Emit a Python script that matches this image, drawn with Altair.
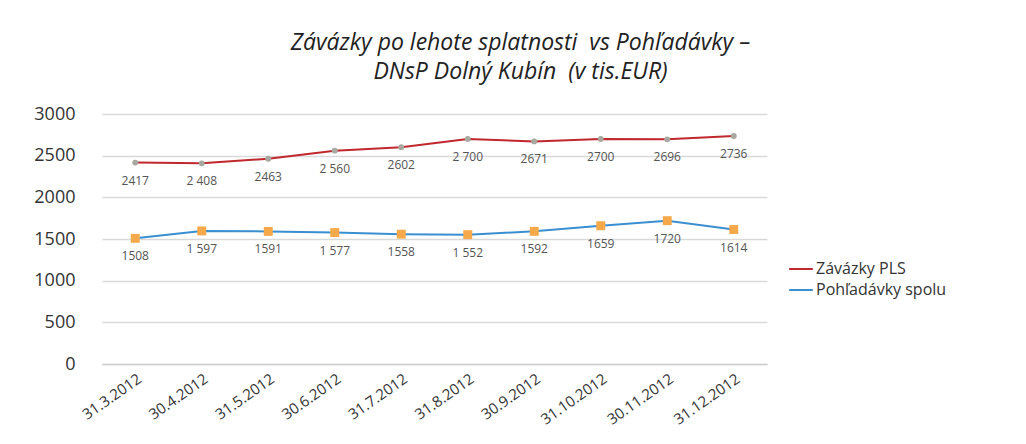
import altair as alt
import pandas as pd

dates = ["31.3.2012", "30.4.2012", "31.5.2012", "30.6.2012", "31.7.2012",
         "31.8.2012", "30.9.2012", "31.10.2012", "30.11.2012", "31.12.2012"]
zavazky = [2417, 2408, 2463, 2560, 2602, 2700, 2671, 2700, 2696, 2736]
pohladavky = [1508, 1597, 1591, 1577, 1558, 1552, 1592, 1659, 1720, 1614]
zav_labels = ["2417", "2 408", "2463", "2 560", "2602", "2 700", "2671", "2700", "2696", "2736"]
poh_labels = ["1508", "1 597", "1591", "1 577", "1558", "1 552", "1592", "1659", "1720", "1614"]
series = ["Závázky PLS", "Pohľadávky spolu"]

rows = []
for i, d in enumerate(dates):
    rows.append({"date": d, "series": series[0], "value": zavazky[i], "label": zav_labels[i]})
    rows.append({"date": d, "series": series[1], "value": pohladavky[i], "label": poh_labels[i]})
df = pd.DataFrame(rows)

color = alt.Color("series:N", scale=alt.Scale(domain=series, range=["#C0282D", "#3A8FD0"]),
                  legend=alt.Legend(title=None, orient="none", legendX=686, legendY=142,
                                    symbolType="stroke", symbolStrokeWidth=2, symbolSize=560,
                                    labelFont="Open Sans", labelFontSize=16, labelColor="#333333",
                                    labelOffset=2, rowPadding=0))

x = alt.X("date:N", sort=dates, scale=alt.Scale(type="point", padding=0.5),
          axis=alt.Axis(title=None, labelAngle=-35, labelFont="Open Sans", labelFontSize=15,
                        labelColor="#333333", domainColor="#d0d0d0", domainWidth=1.5,
                        ticks=False, grid=False, labelPadding=7))
y = alt.Y("value:Q", scale=alt.Scale(domain=[0, 3000], nice=False),
          axis=alt.Axis(title=None, values=[0, 500, 1000, 1500, 2000, 2500, 3000], format="d",
                        labelFont="Open Sans", labelFontSize=18, labelColor="#333333",
                        labelPadding=27, domain=False, ticks=False,
                        gridColor="#d9d9d9", gridWidth=1.5))

base = alt.Chart(df)
lines = base.mark_line(strokeWidth=2).encode(x=x, y=y, color=color)
pts_red = base.transform_filter(alt.datum.series == series[0]).mark_point(
    filled=True, opacity=1, shape="circle", size=35, color="#A8A8A0").encode(x=x, y=y)
pts_blue = base.transform_filter(alt.datum.series == series[1]).mark_point(
    filled=True, opacity=1, shape="square", size=80, color="#F5A94A").encode(x=x, y=y)
text = base.mark_text(dy=18, font="Open Sans", fontSize=12, color="#555555").encode(
    x=x, y=y, text="label:N")

chart = alt.layer(lines, pts_red, pts_blue, text).properties(
    width=665, height=250,
    autosize=alt.AutoSizeParams(type="none"),
    padding={"left": 94, "top": 106, "right": 250, "bottom": 70},
    title=alt.TitleParams(["Závázky po lehote splatnosti\u00a0 vs Pohľadávky –", "DNsP Dolný Kubín\u00a0 (v tis.EUR)"],
                          font="Open Sans", fontSize=23, fontStyle="italic", fontWeight="normal",
                          color="#222222", anchor="middle", dx=86, offset=21, lineHeight=29),
).configure_view(stroke=None)

chart.save("out.html", embed_options={"renderer": "svg", "actions": False})
